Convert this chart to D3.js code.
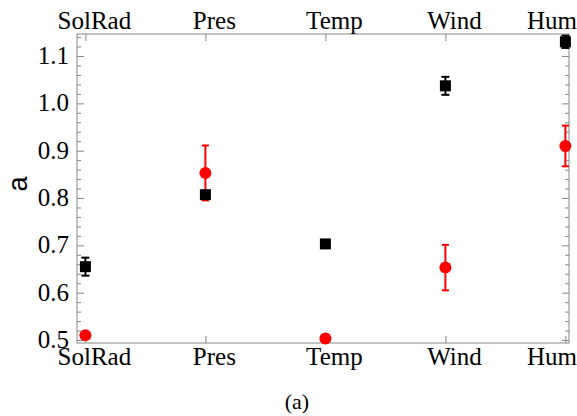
<!DOCTYPE html>
<html>
<head>
<meta charset="utf-8">
<script src="https://cdn.jsdelivr.net/npm/d3@7"></script>
<style>
  body { margin: 0; background: #fff; }
  text { font-family: 'Liberation Serif', 'Times New Roman', serif; }
</style>
</head>
<body>
<script>
const categories = ['SolRad', 'Pres', 'Temp', 'Wind', 'Hum']

// black squares
const blackVals = [0.655, 0.807, 0.703, 1.037, 1.130]
const blackErr = [0.019, 0.008, 0.002, 0.019, 0.013]

// red circles
const redVals = [0.510, 0.853, 0.503, 0.653, 0.910]
const redErr = [0.002, 0.058, 0.008, 0.048, 0.043]

const yTicks = [0.5, 0.6, 0.7, 0.8, 0.9, 1.0, 1.1]

const W = 577, H = 416
const m = { left: 77, right: 8, top: 34, bottom: 73 }

const svg = d3.select('body').append('svg')
  .attr('width', W)
  .attr('height', H)

const x = d3.scaleLinear()
  .domain([-0.07, 4.03])
  .range([m.left, W - m.right])

const y = d3.scaleLinear()
  .domain([0.4937, 1.1465])
  .range([H - m.bottom, m.top])

const axisColor = '#888'

// frame
svg.append('rect')
  .attr('x', m.left)
  .attr('y', m.top)
  .attr('width', W - m.right - m.left)
  .attr('height', H - m.bottom - m.top)
  .attr('fill', 'none')
  .attr('stroke', axisColor)
  .attr('stroke-width', 1)

const minor = d3.range(0.5, 1.15, 0.02).filter(v => Math.abs(Math.round(v * 10) - v * 10) > 0.01)

function yTicksAt (xpos, axis) {
  svg.append('g')
    .attr('transform', `translate(${xpos},0)`)
    .call(axis(y).tickValues(minor).tickSize(4).tickFormat(''))
    .call(g => g.select('.domain').remove())
    .call(g => g.selectAll('line').attr('stroke', axisColor))
  svg.append('g')
    .attr('transform', `translate(${xpos},0)`)
    .call(axis(y).tickValues(yTicks).tickSize(7).tickFormat(''))
    .call(g => g.select('.domain').remove())
    .call(g => g.selectAll('line').attr('stroke', axisColor))
}

yTicksAt(m.left, d3.axisRight)
yTicksAt(W - m.right, d3.axisLeft)

svg.append('g')
  .selectAll('text')
  .data(yTicks)
  .join('text')
  .attr('x', m.left - 8)
  .attr('y', d => y(d) + 8)
  .attr('text-anchor', 'end')
  .attr('font-size', 25)
  .text(d => d3.format('.1f')(d))

// x axes (top and bottom)
const idx = d3.range(categories.length)

svg.append('g')
  .attr('transform', `translate(0,${H - m.bottom})`)
  .call(d3.axisTop(x).tickValues(idx).tickSize(7).tickFormat(''))
  .call(g => g.select('.domain').remove())
  .call(g => g.selectAll('line').attr('stroke', axisColor))

svg.append('g')
  .attr('transform', `translate(0,${m.top})`)
  .call(d3.axisBottom(x).tickValues(idx).tickSize(7).tickFormat(''))
  .call(g => g.select('.domain').remove())
  .call(g => g.selectAll('line').attr('stroke', axisColor))

function catLabels (ypos) {
  svg.append('g')
    .selectAll('text')
    .data(categories)
    .join('text')
    .attr('y', ypos)
    .attr('text-anchor', 'middle')
    .attr('font-size', 25)
    .text(d => d)
    .attr('x', function (d, i) {
      const half = this.getComputedTextLength() / 2
      return Math.min(x(i) + 9, W - half)
    })
}

catLabels(m.top - 5)
catLabels(H - m.bottom + 22)

// y label
svg.append('text')
  .attr('transform', `translate(27,184) rotate(-90)`)
  .attr('text-anchor', 'middle')
  .style('font-family', 'Liberation Sans, Arial, sans-serif')
  .attr('font-size', 27)
  .text('a')

svg.append('text')
  .attr('x', 297)
  .attr('y', 409)
  .attr('text-anchor', 'middle')
  .attr('font-size', 22)
  .text('(a)')

function errorBars (vals, errs, color, cap) {
  const g = svg.append('g').attr('stroke', color).attr('stroke-width', 2)
  vals.forEach((v, i) => {
    if (errs[i] < 0.004) return
    g.append('line')
      .attr('x1', x(i)).attr('x2', x(i))
      .attr('y1', y(v - errs[i])).attr('y2', y(v + errs[i]))
    ;[v - errs[i], v + errs[i]].forEach(e => {
      g.append('line')
        .attr('x1', x(i) - cap).attr('x2', x(i) + cap)
        .attr('y1', y(e)).attr('y2', y(e))
    })
  })
}

errorBars(redVals, redErr, '#f00', 3.5)

svg.append('g')
  .selectAll('circle')
  .data(redVals)
  .join('circle')
  .attr('cx', (d, i) => x(i))
  .attr('cy', d => y(d))
  .attr('r', 6)
  .attr('fill', '#f00')

errorBars(blackVals, blackErr, '#000', 4)

svg.append('g')
  .selectAll('rect')
  .data(blackVals)
  .join('rect')
  .attr('x', (d, i) => x(i) - 5.5)
  .attr('y', d => y(d) - 5.5)
  .attr('width', 11)
  .attr('height', 11)
  .attr('fill', '#000')
</script>
</body>
</html>
